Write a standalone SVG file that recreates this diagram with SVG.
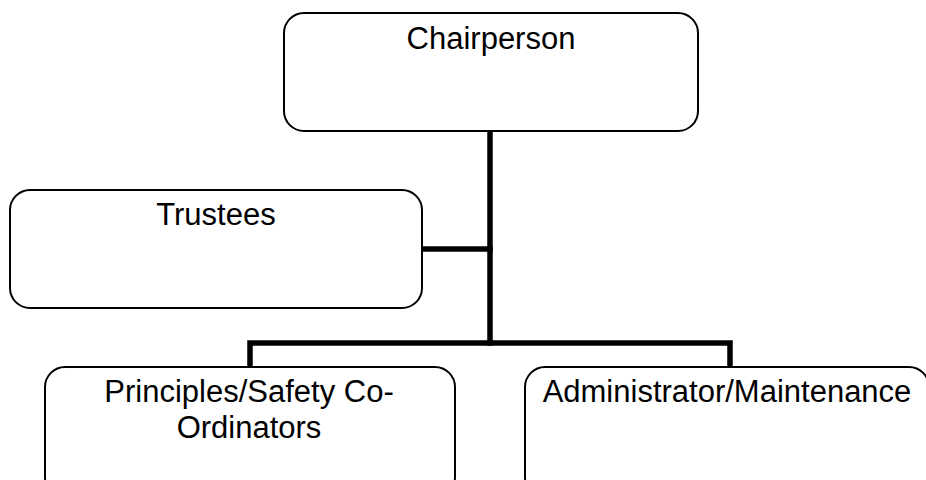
<svg xmlns="http://www.w3.org/2000/svg" width="926" height="480" viewBox="0 0 926 480">
<style>
.box{fill:#fff;stroke:#000;stroke-width:2}
.lbl{font-family:"Liberation Sans",Arial,sans-serif;font-size:31px;fill:#000;text-anchor:middle}
.conn{fill:none;stroke:#000;stroke-width:5.5;stroke-linecap:square}
</style>
<rect width="926" height="480" fill="#fff"/>
<g id="connectors">
<path class="conn" d="M490,132 V343"/>
<path class="conn" d="M423,249 H490"/>
<path class="conn" d="M250,366 V343 H730 V366"/>
</g>
<g id="chairperson">
<rect class="box" x="284" y="13" width="414" height="118" rx="20"/>
<text class="lbl" x="491" y="49">Chairperson</text>
</g>
<g id="trustees">
<rect class="box" x="10" y="190" width="412" height="118" rx="20"/>
<text class="lbl" x="216" y="225">Trustees</text>
</g>
<g id="principles">
<rect class="box" x="45" y="367" width="410" height="130" rx="20"/>
<text class="lbl" x="249" y="402">Principles/Safety Co-</text>
<text class="lbl" x="249" y="438">Ordinators</text>
</g>
<g id="administrator">
<rect class="box" x="525" y="367" width="404" height="130" rx="20"/>
<text class="lbl" x="727" y="402">Administrator/Maintenance</text>
</g>
</svg>
